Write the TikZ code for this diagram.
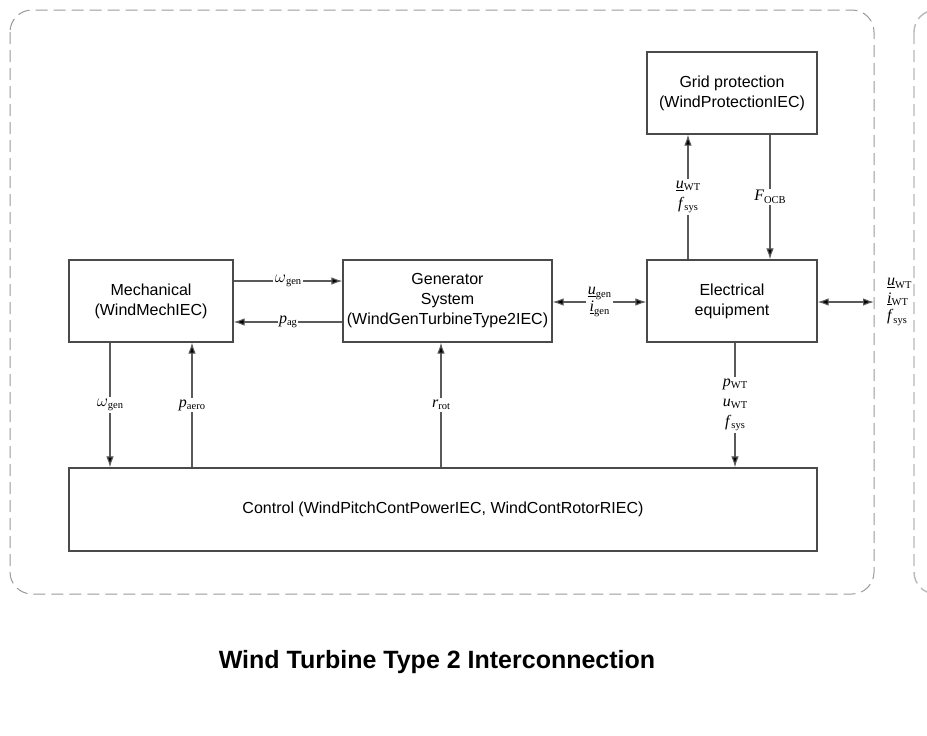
\documentclass[tikz,border=0pt]{standalone}
\usepackage{fontspec}
\setmainfont{Liberation Sans}
\newfontfamily\tms{Liberation Serif}
\usetikzlibrary{arrows.meta}
\newcommand{\vv}[2]{{\tms\fontsize{16}{18}\selectfont\textit{#1}\raisebox{-2.5pt}{\fontsize{10.5}{10.5}\selectfont #2}}}
\definecolor{boxc}{HTML}{4A4A4A}
\definecolor{linec}{HTML}{5A5A5A}
\definecolor{dashc}{HTML}{9A9A9A}
\begin{document}
\begin{tikzpicture}[x=1pt,y=-1pt,
  blk/.style={draw=boxc,line width=1.2pt,align=center,font=\fontsize{16}{20}\selectfont,inner sep=0pt},
  tip/.tip={Latex[length=11pt,width=7.5pt,fill=black]},
  arr/.style={draw=linec,line width=1.1pt,-tip},
  darr/.style={draw=linec,line width=1.1pt,tip-tip},
  lab/.style={fill=white,inner sep=1.5pt,align=center,font=\fontsize{16}{20}\selectfont}]
\useasboundingbox (0,0) rectangle (927,736);
\begin{scope}
\clip (0,0) rectangle (927,736);
\draw[dashc,line width=1pt,dash pattern=on 12pt off 6pt,rounded corners=22pt] (10,10) rectangle (874,594);
\draw[dashc!70,line width=1.4pt,dash pattern=on 12pt off 6pt,rounded corners=22pt] (914,10) rectangle (1100,594);
\end{scope}
\node[blk,minimum width=164pt,minimum height=82pt] (mech) at (151,301) {Mechanical\\(WindMechIEC)};
\node[blk,minimum width=209pt,minimum height=82pt] (gen) at (447.5,301) {Generator\\System\\(WindGenTurbineType2IEC)};
\node[blk,minimum width=170pt,minimum height=82pt] (elec) at (732,301) {Electrical\\equipment};
\node[blk,minimum width=170pt,minimum height=82pt] (grid) at (732,93) {Grid protection\\(WindProtectionIEC)};
\node[blk,minimum width=748pt,minimum height=83pt] (ctrl) at (443,509.5) {Control (WindPitchContPowerIEC, WindContRotorRIEC)};
% mech <-> gen
\draw[arr] ([yshift=20pt]mech.east) -- node[lab] {\vv{$\omega$}{gen}} ([yshift=20pt]gen.west);
\draw[arr] ([yshift=-21pt]gen.west) -- node[lab] {\vv{p}{ag}} ([yshift=-21pt]mech.east);
% gen <-> elec
\draw[darr] ([yshift=-1pt]gen.east) -- node[lab,font=\fontsize{16}{17}\selectfont] {\vv{\underline{u}}{gen}\\\vv{\underline{i}}{gen}} ([yshift=-1pt]elec.west);
% elec <-> grid
\draw[arr] ([xshift=-44pt]elec.north) -- node[lab] {\vv{\underline{u}}{WT}\\\vv{f}{sys}} ([xshift=-44pt]grid.south);
\draw[arr] ([xshift=38pt]grid.south) -- node[lab] {\vv{F}{OCB}} ([xshift=38pt]elec.north);
% elec -> outside
\coordinate (bnd) at (874,302);
\draw[darr] ([yshift=-1pt]elec.east) -- (bnd);
\node[anchor=west,inner sep=0pt,align=left,font=\fontsize{16}{17.5}\selectfont] (ext) at (887,302) {\vv{\underline{u}}{WT}\\\vv{\underline{i}}{WT}\\\vv{f}{sys}};
% mech <-> ctrl
\draw[arr] ([xshift=-41pt]mech.south) -- node[lab] {\vv{$\omega$}{gen}} ([xshift=-41pt]ctrl.north -| mech.south);
\draw[arr] ([xshift=41pt]ctrl.north -| mech.south) -- node[lab] {\vv{p}{aero}} ([xshift=41pt]mech.south);
% ctrl -> gen
\draw[arr] ([xshift=-6.5pt]ctrl.north -| gen.south) -- node[lab] {\vv{r}{rot}} ([xshift=-6.5pt]gen.south);
% elec -> ctrl
\draw[arr] ([xshift=3pt]elec.south) -- node[lab] {\vv{p}{WT}\\\vv{u}{WT}\\\vv{f}{sys}} ([xshift=3pt]ctrl.north -| elec.south);
\node[font=\bfseries\fontsize{25}{30}\selectfont] (title) at (437,662) {Wind Turbine Type 2 Interconnection};
\end{tikzpicture}
\end{document}
